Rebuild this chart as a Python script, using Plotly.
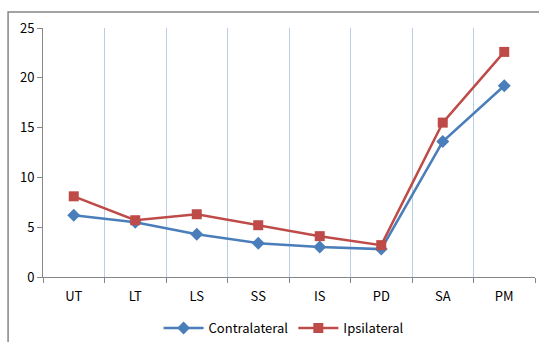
import plotly.graph_objects as go

categories = ["UT", "LT", "LS", "SS", "IS", "PD", "SA", "PM"]
contralateral = [6.2, 5.5, 4.3, 3.4, 3.0, 2.8, 13.6, 19.2]
ipsilateral = [8.1, 5.7, 6.3, 5.2, 4.1, 3.2, 15.5, 22.6]
y_ticks = [0, 5, 10, 15, 20, 25]

FONT = "Noto Sans CJK KR, Noto Sans, sans-serif"

fig = go.Figure()
fig.add_trace(go.Scatter(
    x=categories, y=contralateral, name="Contralateral",
    mode="lines+markers",
    line=dict(color="#4A7EBB", width=2.5),
    marker=dict(symbol="diamond", size=10, color="#4A7EBB"),
))
fig.add_trace(go.Scatter(
    x=categories, y=ipsilateral, name="Ipsilateral",
    mode="lines+markers",
    line=dict(color="#BE4B48", width=2.5),
    marker=dict(symbol="square", size=10, color="#BE4B48"),
))

fig.update_layout(
    width=539, height=342,
    margin=dict(l=43, r=4, t=28, b=65, autoexpand=False),
    paper_bgcolor="white", plot_bgcolor="white",
    font=dict(family=FONT, size=13, color="#000000"),
    showlegend=True,
    legend=dict(orientation="h", x=0.49, xanchor="center", y=-0.145, yanchor="top",
                font=dict(size=13), itemwidth=40),
    shapes=[dict(type="rect", xref="paper", yref="paper",
                 x0=-0.071, x1=1.2, y0=-0.5, y1=1.064,
                 line=dict(color="#868686", width=1.5), layer="below")],
)
fig.update_xaxes(
    type="category", range=[-0.5, 7.5], automargin=False,
    tickson="boundaries", ticks="outside", ticklen=5, tickcolor="#868686",
    ticklabelstandoff=7,
    showgrid=True, gridcolor="#B9CDE5", gridwidth=1,
    showline=True, linecolor="#868686", linewidth=1,
    zeroline=False, fixedrange=True,
)
fig.update_yaxes(
    range=[0, 25], tickvals=y_ticks, ticks="outside", ticklen=5, tickcolor="#868686",
    automargin=False,
    showgrid=False, showline=True, linecolor="#868686", linewidth=1,
    zeroline=False, fixedrange=True,
)

fig.write_html(
    "out.html",
    config={"displayModeBar": False},
    post_script="document.body.style.margin='0';document.body.style.overflow='hidden';",
)
